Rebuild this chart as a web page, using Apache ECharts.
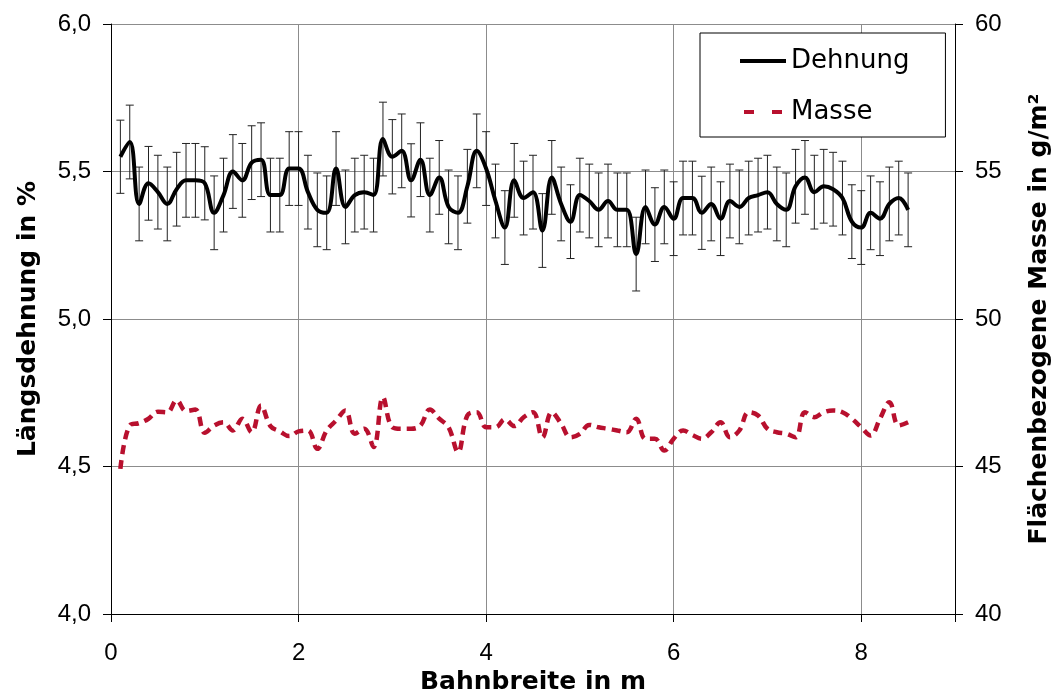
<!DOCTYPE html>
<html>
<head>
<meta charset="utf-8">
<script src="https://cdn.jsdelivr.net/npm/echarts@6/dist/echarts.min.js"></script>
<style>
  html, body { margin: 0; padding: 0; background: #fff; }
  #main { width: 1055px; height: 697px; }
</style>
</head>
<body>
<div id="main"></div>
<script>
// Positionen über die Bahnbreite (m)
var positions = [
  0.1, 0.2, 0.3, 0.4, 0.5, 0.6, 0.7, 0.8, 0.9, 1.0,
  1.1, 1.2, 1.3, 1.4, 1.5, 1.6, 1.7, 1.8, 1.9, 2.0,
  2.1, 2.2, 2.3, 2.4, 2.5, 2.6, 2.7, 2.8, 2.9, 3.0,
  3.1, 3.2, 3.3, 3.4, 3.5, 3.6, 3.7, 3.8, 3.9, 4.0,
  4.1, 4.2, 4.3, 4.4, 4.5, 4.6, 4.7, 4.8, 4.9, 5.0,
  5.1, 5.2, 5.3, 5.4, 5.5, 5.6, 5.7, 5.8, 5.9, 6.0,
  6.1, 6.2, 6.3, 6.4, 6.5, 6.6, 6.7, 6.8, 6.9, 7.0,
  7.1, 7.2, 7.3, 7.4, 7.5, 7.6, 7.7, 7.8, 7.9, 8.0,
  8.1, 8.2, 8.3, 8.4, 8.5
];

// Längsdehnung in %
var dehnung = [
  5.55, 5.60, 5.39, 5.46, 5.43, 5.39, 5.44, 5.47, 5.47, 5.46,
  5.36, 5.42, 5.50, 5.47, 5.53, 5.54, 5.42, 5.42, 5.51, 5.51,
  5.43, 5.37, 5.36, 5.51, 5.38, 5.42, 5.43, 5.42, 5.61, 5.55,
  5.57, 5.47, 5.54, 5.42, 5.48, 5.38, 5.36, 5.45, 5.57, 5.51,
  5.40, 5.31, 5.47, 5.41, 5.43, 5.30, 5.48, 5.39, 5.33, 5.42,
  5.40, 5.37, 5.40, 5.37, 5.37, 5.22, 5.38, 5.32, 5.38, 5.34,
  5.41, 5.41, 5.36, 5.39, 5.34, 5.40, 5.38, 5.41, 5.42, 5.43,
  5.39, 5.37, 5.45, 5.48, 5.43, 5.45, 5.44, 5.41, 5.33, 5.31,
  5.36, 5.34, 5.39, 5.41, 5.37
];

// halbe Fehlerbalkenlänge (Standardabweichung)
var dehnungErr = [
  0.124, 0.125, 0.125, 0.125, 0.125, 0.125, 0.125, 0.125, 0.125, 0.124,
  0.125, 0.125, 0.125, 0.125, 0.125, 0.125, 0.125, 0.125, 0.125, 0.125,
  0.125, 0.125, 0.125, 0.125, 0.125, 0.125, 0.125, 0.125, 0.125, 0.126,
  0.125, 0.124, 0.125, 0.125, 0.125, 0.125, 0.125, 0.125, 0.125, 0.125,
  0.125, 0.125, 0.125, 0.125, 0.125, 0.125, 0.125, 0.125, 0.125, 0.125,
  0.125, 0.125, 0.125, 0.125, 0.125, 0.125, 0.125, 0.125, 0.125, 0.125,
  0.125, 0.125, 0.124, 0.125, 0.125, 0.125, 0.125, 0.125, 0.125, 0.125,
  0.125, 0.125, 0.125, 0.125, 0.125, 0.125, 0.125, 0.125, 0.125, 0.125,
  0.125, 0.125, 0.125, 0.125, 0.125
];

// Flächenbezogene Masse in g/m²
var masse = [
  44.92, 46.39, 46.47, 46.62, 46.86, 46.84, 47.24, 46.88, 46.93, 46.14,
  46.39, 46.50, 46.22, 46.62, 46.16, 47.07, 46.37, 46.19, 46.03, 46.19,
  46.22, 45.60, 46.22, 46.56, 46.90, 46.11, 46.28, 45.66, 47.35, 46.33,
  46.28, 46.28, 46.39, 46.93, 46.62, 46.33, 45.49, 46.73, 46.84, 46.33,
  46.33, 46.60, 46.37, 46.67, 46.84, 45.99, 46.84, 46.45, 45.99, 46.11,
  46.41, 46.33, 46.28, 46.22, 46.16, 46.62, 45.94, 45.94, 45.54, 45.94,
  46.22, 46.07, 45.94, 46.16, 46.50, 45.99, 46.22, 46.84, 46.73, 46.28,
  46.16, 46.11, 45.99, 46.84, 46.67, 46.84, 46.90, 46.84, 46.62, 46.33,
  46.05, 46.62, 47.18, 46.39, 46.50
];

var xTicks = [0, 2, 4, 6, 8];

var FONT = "'Liberation Sans', Arial, sans-serif";
var FONT_WIDE = "'DejaVu Sans', 'Liberation Sans', sans-serif";

var dehnungData = positions.map(function (x, i) { return [x, dehnung[i]]; });
var masseData = positions.map(function (x, i) { return [x, masse[i]]; });
var errData = positions.map(function (x, i) {
  return [x, dehnung[i] - dehnungErr[i], dehnung[i] + dehnungErr[i]];
});

var myChart = echarts.init(document.getElementById('main'));

myChart.setOption({
  animation: false,
  backgroundColor: '#fff',
  textStyle: { fontFamily: FONT },
  grid: {
    left: 111,
    right: 100,
    top: 24,
    bottom: 83,
    outerBoundsMode: 'none'
  },
  legend: {
    orient: 'vertical',
    left: 700,
    top: 33,
    padding: [15, 36, 12, 40],
    itemWidth: 46,
    itemHeight: 4,
    itemGap: 25,
    borderColor: '#000',
    borderWidth: 1,
    backgroundColor: '#fff',
    data: [
      { name: 'Dehnung', icon: 'rect' },
      { name: 'Masse', icon: 'path://M0,0h10v4h-10z M28,0h10v4h-10z' }
    ],
    textStyle: {
      fontFamily: FONT_WIDE,
      fontSize: 26,
      lineHeight: 26,
      color: '#000'
    }
  },
  xAxis: {
    type: 'value',
    min: 0,
    max: 9,
    interval: 2,
    name: 'Bahnbreite in m',
    nameLocation: 'middle',
    nameGap: 54,
    nameTextStyle: { fontFamily: FONT_WIDE, fontSize: 25, fontWeight: 'bold', color: '#000' },
    axisLine: { lineStyle: { color: '#000', width: 1 } },
    axisTick: { length: 8, lineStyle: { color: '#000' } },
    axisLabel: {
      margin: 27,
      fontFamily: FONT,
      fontSize: 24,
      color: '#000',
      formatter: function (v) {
        return xTicks.indexOf(v) >= 0 ? String(v) : '';
      }
    },
    splitLine: { show: true, lineStyle: { color: '#8c8c8c', width: 1 } }
  },
  yAxis: [
    {
      type: 'value',
      min: 4,
      max: 6,
      interval: 0.5,
      name: 'Längsdehnung in %',
      nameLocation: 'middle',
      nameRotate: 90,
      nameGap: 70,
      nameTextStyle: { fontFamily: FONT_WIDE, fontSize: 25, fontWeight: 'bold', color: '#000' },
      axisLine: { show: true, lineStyle: { color: '#000', width: 1 } },
      axisTick: { show: true, length: 8, lineStyle: { color: '#000' } },
      axisLabel: {
        margin: 20,
        fontFamily: FONT,
        fontSize: 24,
        color: '#000',
        formatter: function (v) { return v.toFixed(1).replace('.', ','); }
      },
      splitLine: { show: true, lineStyle: { color: '#8c8c8c', width: 1 } }
    },
    {
      type: 'value',
      min: 40,
      max: 60,
      interval: 5,
      position: 'right',
      name: 'Flächenbezogene Masse in g/m²',
      nameLocation: 'middle',
      nameRotate: 90,
      nameGap: 72,
      nameTextStyle: { fontFamily: FONT_WIDE, fontSize: 25, fontWeight: 'bold', color: '#000' },
      axisLine: { show: true, lineStyle: { color: '#000', width: 1 } },
      axisTick: { show: true, length: 8, lineStyle: { color: '#000' } },
      axisLabel: {
        margin: 20,
        fontFamily: FONT,
        fontSize: 24,
        color: '#000'
      },
      splitLine: { show: false }
    }
  ],
  series: [
    {
      name: 'Fehler',
      type: 'custom',
      yAxisIndex: 0,
      z: 1,
      silent: true,
      data: errData,
      renderItem: function (params, api) {
        var x = api.value(0);
        var lo = api.coord([x, api.value(1)]);
        var hi = api.coord([x, api.value(2)]);
        var w = 4;
        var style = { stroke: '#222', lineWidth: 1 };
        return {
          type: 'group',
          children: [
            { type: 'line', shape: { x1: lo[0], y1: lo[1], x2: hi[0], y2: hi[1] }, style: style },
            { type: 'line', shape: { x1: hi[0] - w, y1: hi[1], x2: hi[0] + w, y2: hi[1] }, style: style },
            { type: 'line', shape: { x1: lo[0] - w, y1: lo[1], x2: lo[0] + w, y2: lo[1] }, style: style }
          ]
        };
      }
    },
    {
      name: 'Dehnung',
      type: 'line',
      yAxisIndex: 0,
      z: 3,
      data: dehnungData,
      smooth: 0.4,
      symbol: 'none',
      lineStyle: { color: '#000', width: 4 },
      itemStyle: { color: '#000' }
    },
    {
      name: 'Masse',
      type: 'line',
      yAxisIndex: 1,
      z: 2,
      data: masseData,
      smooth: 0.4,
      symbol: 'none',
      lineStyle: { color: '#B8102E', width: 4.5, type: [9, 6] },
      itemStyle: { color: '#B8102E' }
    }
  ]
});
</script>
</body>
</html>
